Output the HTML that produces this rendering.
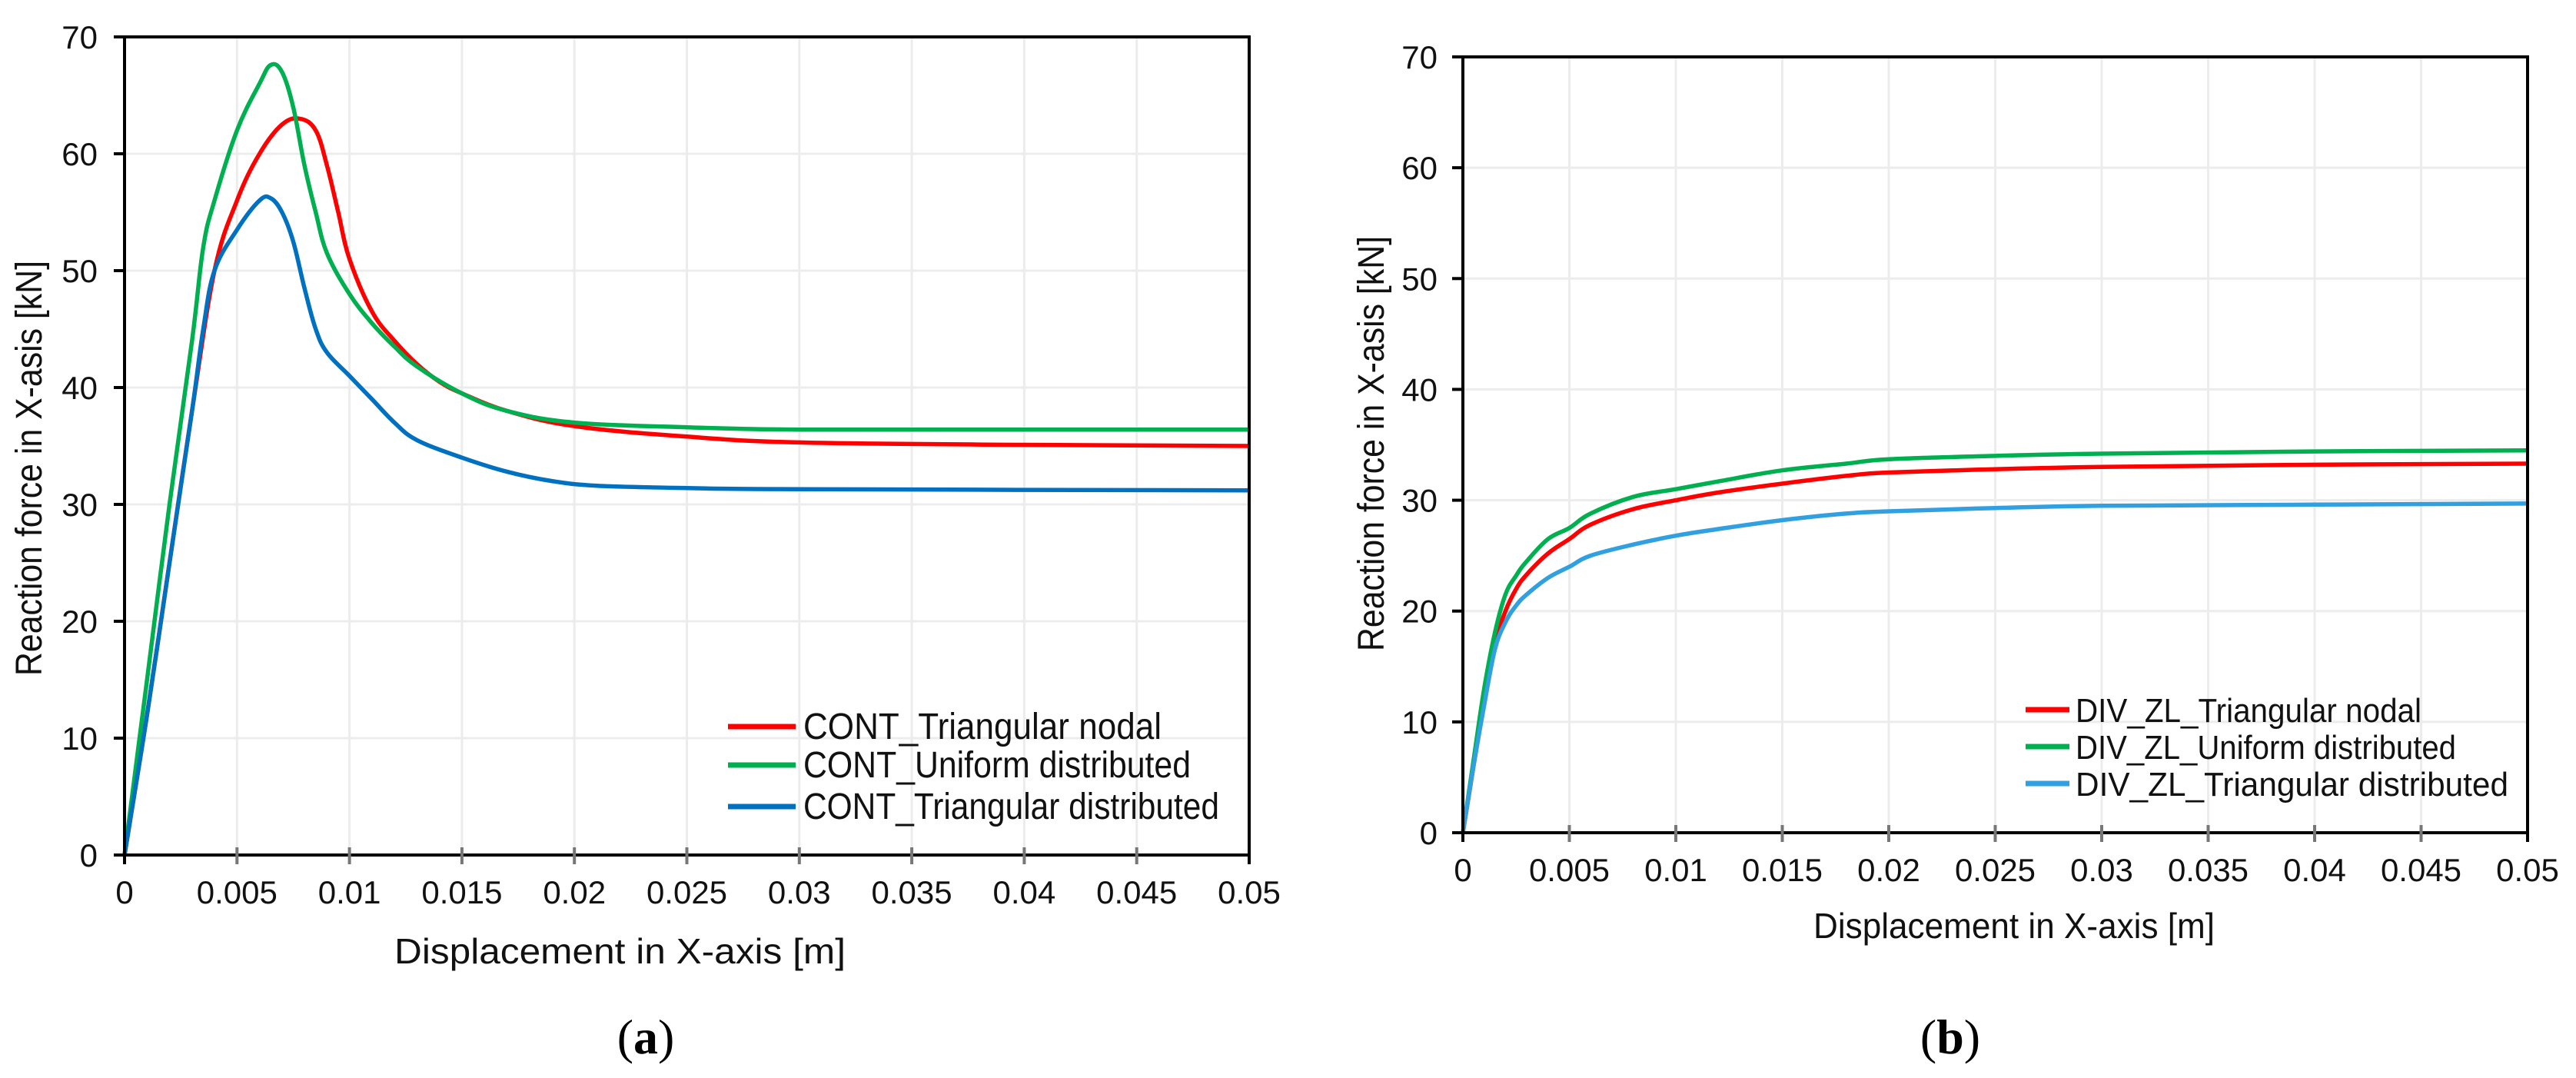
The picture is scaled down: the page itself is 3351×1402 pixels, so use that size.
<!DOCTYPE html>
<html><head><meta charset="utf-8"><style>
html,body{margin:0;padding:0;background:#fff;}
svg{display:block;font-family:"Liberation Sans",Arial,sans-serif;}
</style></head><body>
<svg id="fig" width="3351" height="1402" viewBox="0 0 3351 1402" xmlns="http://www.w3.org/2000/svg"></svg>
<script>
const xTicks=[0,0.005,0.01,0.015,0.02,0.025,0.03,0.035,0.04,0.045,0.05];
const xTickLabels=["0","0.005","0.01","0.015","0.02","0.025","0.03","0.035","0.04","0.045","0.05"];
const yTicks=[0,10,20,30,40,50,60,70];
const yTickLabels=["0","10","20","30","40","50","60","70"];

const aNodalX=[0,0.001,0.002,0.003,0.004,0.005,0.006,0.007,0.0078,0.0085,0.009,0.0095,0.01,0.011,0.012,0.013,0.014,0.015,0.017,0.02,0.025,0.03,0.04,0.05];
const aNodalY=[0,12,25,38,50,56,60,62.5,63,62,59,55,51,46.5,44,42,40.5,39.5,38,36.7,35.8,35.3,35.1,35];
const aUniformX=[0,0.001,0.002,0.003,0.0035,0.004,0.005,0.006,0.0065,0.007,0.0075,0.008,0.0085,0.009,0.01,0.011,0.012,0.013,0.015,0.017,0.02,0.025,0.03,0.04,0.05];
const aUniformY=[0,15,30,44,52,56,62,66,67.6,67,64,59,55,51.5,48,45.5,43.5,41.8,39.5,38,37,36.6,36.4,36.4,36.4];
const aTriDistX=[0,0.001,0.002,0.003,0.0035,0.004,0.005,0.006,0.0065,0.007,0.0075,0.008,0.0085,0.009,0.01,0.011,0.012,0.013,0.015,0.017,0.019,0.021,0.025,0.03,0.05];
const aTriDistY=[0,12,25,38,45,50,53.5,56,56.2,55,52.5,48.5,45,43,41,39,37,35.5,34,32.8,32,31.6,31.4,31.3,31.2];

const bX=[0,0.0005,0.001,0.0015,0.002,0.0025,0.003,0.004,0.005,0.006,0.008,0.01,0.012,0.015,0.018,0.02,0.025,0.03,0.04,0.05];
const bNodalY=[0,6,12,17,20,22,23.3,25.2,26.5,27.8,29.2,30,30.7,31.5,32.2,32.5,32.8,33,33.2,33.3];
const bUniformY=[0,6.5,13,18,21.5,23.2,24.5,26.5,27.5,28.8,30.3,31,31.7,32.7,33.3,33.7,34,34.2,34.4,34.5];
const bTriDistY=[0,6,11.5,16.5,19,20.5,21.5,23,24,25,26,26.8,27.4,28.2,28.8,29,29.3,29.5,29.6,29.7];

const NS="http://www.w3.org/2000/svg";
const svg=document.getElementById('fig');
function mk(tag,attrs,parent){const e=document.createElementNS(NS,tag);for(const k in attrs)e.setAttribute(k,attrs[k]);(parent||svg).appendChild(e);return e;}
function smooth(pts){
  let d='M'+pts[0][0].toFixed(1)+','+pts[0][1].toFixed(1);
  for(let i=0;i<pts.length-1;i++){
    const p0=pts[Math.max(0,i-1)],p1=pts[i],p2=pts[i+1],p3=pts[Math.min(pts.length-1,i+2)];
    const t=0.18;
    const c1=[p1[0]+(p2[0]-p0[0])*t,p1[1]+(p2[1]-p0[1])*t];
    const c2=[p2[0]-(p3[0]-p1[0])*t,p2[1]-(p3[1]-p1[1])*t];
    d+='C'+c1[0].toFixed(1)+','+c1[1].toFixed(1)+' '+c2[0].toFixed(1)+','+c2[1].toFixed(1)+' '+p2[0].toFixed(1)+','+p2[1].toFixed(1);
  }
  return d;
}

function chart(id,P,series,legend,xTitle,yTitle,caption){
  const g=mk('g',{});
  
  
  const sx=v=>P.x0+(v-0)/(0.05)*(P.x1-P.x0);
  const sy=v=>P.y0-(v/70)*(P.y0-P.y1);
  xTicks.forEach((t,i)=>{
    const gl=mk('line',{x1:sx(t),x2:sx(t),y1:P.y1,y2:P.y0,stroke:'#ececec','stroke-width':3},g);
    
    
  });
  yTicks.forEach((t,i)=>{
    const gl=mk('line',{x1:P.x0,x2:P.x1,y1:sy(t),y2:sy(t),stroke:'#ececec','stroke-width':3},g);
    
    
  });
  series.forEach(s=>{
    const pts=s.x.map((v,i)=>[sx(v),sy(s.y[i])]);
    const p=mk('path',{d:smooth(pts),fill:'none',stroke:s.c,'stroke-width':5.5,'stroke-linejoin':'round'},g);
    
    
  });
  const fr=mk('rect',{x:P.x0,y:P.y1,width:P.x1-P.x0,height:P.y0-P.y1,fill:'none',stroke:'#000','stroke-width':4},g);
  
  
  xTicks.forEach((t,i)=>{
    const tk=mk('line',{x1:sx(t),x2:sx(t),y1:P.y0-10,y2:P.y0+12,stroke:i==0||i==10?'#000':'#777','stroke-width':4},g);
    
    
    const tl=mk('text',{x:sx(t),y:P.y0+63,'font-size':42,'text-anchor':'middle',fill:'#111'},g);
    tl.textContent=xTickLabels[i];
    
    
  });
  yTicks.forEach((t,i)=>{
    const tk=mk('line',{x1:P.x0-14,x2:P.x0,y1:sy(t),y2:sy(t),stroke:'#000','stroke-width':4},g);
    
    
    const tl=mk('text',{x:P.ylx,y:sy(t)+15,'font-size':42,'text-anchor':'end',fill:'#111'},g);
    tl.textContent=yTickLabels[i];
    
    
  });
  legend.rows.forEach((r,i)=>{
    const y=legend.y[i];
    const ln=mk('line',{x1:legend.lx1,x2:legend.lx2,y1:y,y2:y,stroke:series[i].c,'stroke-width':7},g);
    
    
    const tx=mk('text',{x:legend.tx,y:y+16,'font-size':legend.fs,fill:'#111',textLength:r.w,lengthAdjust:'spacingAndGlyphs'},g);
    tx.textContent=r.t;
    
    
  });
  const xt=mk('text',{x:xTitle.x,y:xTitle.y,'font-size':46,fill:'#111',textLength:xTitle.w,lengthAdjust:'spacingAndGlyphs'},g);
  xt.textContent='Displacement in X-axis [m]';
  
  
  const yt=mk('text',{x:0,y:0,'font-size':48,fill:'#111','text-anchor':'middle',transform:`translate(${yTitle.x},${yTitle.y}) rotate(-90)`,textLength:yTitle.w,lengthAdjust:'spacingAndGlyphs'},g);
  yt.textContent='Reaction force in X-asis [kN]';
  
  
  const cp=mk('text',{x:caption.x,y:caption.y,'font-size':64,'text-anchor':'middle',fill:'#000','font-family':'"Liberation Serif",serif'},g);
  cp.innerHTML='(<tspan font-weight="bold">'+caption.t+'</tspan>)';
  
  
}

chart('chart-a',{x0:162,x1:1625,y0:1112,y1:48,ylx:127},
 [{x:aNodalX,y:aNodalY,c:'#ff0000',name:'line-cont-triangular-nodal'},
  {x:aUniformX,y:aUniformY,c:'#00b050',name:'line-cont-uniform-distributed'},
  {x:aTriDistX,y:aTriDistY,c:'#0070c0',name:'line-cont-triangular-distributed'}],
 {lx1:947,lx2:1035,tx:1045,fs:48,y:[945,995,1049],rows:[{t:'CONT_Triangular nodal',w:466},{t:'CONT_Uniform distributed',w:504},{t:'CONT_Triangular distributed',w:541}]},
 {x:513,y:1253,w:587},{x:54,y:609,w:540},{x:840,y:1370,t:'a'});

chart('chart-b',{x0:1903,x1:3288,y0:1083,y1:74,ylx:1870},
 [{x:bX,y:bNodalY,c:'#ff0000',name:'line-div-zl-triangular-nodal'},
  {x:bX,y:bUniformY,c:'#00b050',name:'line-div-zl-uniform-distributed'},
  {x:bX,y:bTriDistY,c:'#30a0e0',name:'line-div-zl-triangular-distributed'}],
 {lx1:2635,lx2:2692,tx:2700,fs:44,y:[923,971,1019],rows:[{t:'DIV_ZL_Triangular nodal',w:450},{t:'DIV_ZL_Uniform distributed',w:495},{t:'DIV_ZL_Triangular distributed',w:563}]},
 {x:2359,y:1220,w:522},{x:1800,y:577,w:540},{x:2537,y:1370,t:'b'});
</script>
</body></html>
